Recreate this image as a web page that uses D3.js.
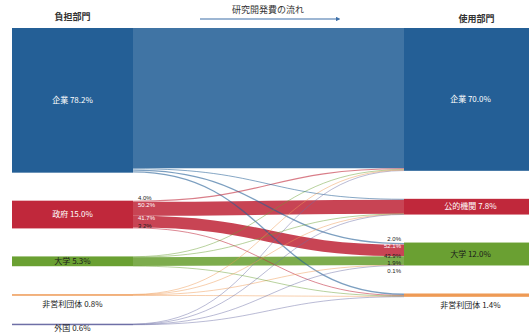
<!DOCTYPE html>
<html>
<head>
<meta charset="utf-8">
<script src="https://cdn.jsdelivr.net/npm/d3@7"></script>
<style>
  body { margin: 0; background: #fff; }
  text { font-family: "Noto Sans CJK JP", "Noto Sans", sans-serif; }
  text.pct { font-family: "Liberation Sans", Arial, sans-serif; }
</style>
</head>
<body>
<div id="vis-container"></div>
<script>
const width = 529,
      height = 334;

// ******* Data *******
var sources = ["企業", "政府", "大学", "非営利団体", "外国"];
var sourceShares = ["78.2%", "15.0%", "5.3%", "0.8%", "0.6%"];
var targets = ["企業", "公的機関", "大学", "非営利団体"];
var targetShares = ["70.0%", "7.8%", "12.0%", "1.4%"];

// flows in % of total R&D, rows = sources, columns = targets
var flowKigyo  = [75.8, 0.5, 1.1, 0.8];
var flowSeifu  = [0.6, 7.6, 6.3, 0.5];
var flowDaigaku = [0.3, 0.2, 4.7, 0.1];
var flowHieiri = [0.2, 0.1, 0.2, 0.3];
var flowGaikoku = [0.3, 0.1, 0.1, 0.1];
var flows = [flowKigyo, flowSeifu, flowDaigaku, flowHieiri, flowGaikoku];

// share labels drawn on the flows
var seifuOutLabels = ["4.0%", "50.2%", "41.7%", "3.2%"];     // 政府 -> each target
var daigakuInLabels = ["2.0%", "52.1%", "43.9%", "1.9%", "0.1%"]; // each source -> 大学

var colors = {
    "企業": "#245f96",
    "政府": "#c0283b",
    "大学": "#6aa032",
    "非営利団体": "#ee9a55",
    "外国": "#6e6fa6"
};
var ink = { "企業": "#fff", "政府": "#fff", "公的機関": "#fff", "大学": "#1a1a1a" };
var targetColor = { "企業": "#245f96", "公的機関": "#c0283b", "大学": "#6aa032", "非営利団体": "#ee9a55" };

// ******* Layout *******
const topY = 28, gap = 28;
const leftX0 = 12, leftX1 = 133, rightX0 = 404, rightX1 = 529;
var k = d3.scaleLinear().domain([0, 100]).range([0, 185]);

var srcTotals = flows.map(r => d3.sum(r));
var tgtTotals = targets.map((t, j) => d3.sum(flows, r => r[j]));

function stack(names, totals) {
    var y = topY;
    return names.map(function(n, i) {
        var h = k(totals[i]);
        var node = { name: n, y0: y, y1: y + h, h: h };
        y += h + gap;
        return node;
    });
}
var leftNodes = stack(sources, srcTotals);
var rightNodes = stack(targets, tgtTotals);

var links = [];
var tOff = rightNodes.map(n => n.y0);
leftNodes.forEach(function(s, i) {
    var sOff = s.y0;
    flows[i].forEach(function(v, j) {
        var w = k(v);
        links.push({ i: i, j: j, v: v, w: w, sy: sOff + w / 2, ty: tOff[j] + w / 2 });
        sOff += w;
        tOff[j] += w;
    });
});
// thick bands underneath, thin lines on top
links.sort((a, b) => b.w - a.w);

var svg = d3.select("#vis-container").append("svg")
    .attr("width", width)
    .attr("height", height);

var link = d3.linkHorizontal();

svg.append("g").selectAll("path")
    .data(links)
    .enter()
    .append("path")
    .attr("d", d => link({ source: [leftX1, d.sy], target: [rightX0, d.ty] }))
    .attr("fill", "none")
    .attr("stroke", d => colors[sources[d.i]])
    .attr("stroke-opacity", d => d.w > 3 ? 0.87 : 0.6)
    .attr("stroke-width", d => d.w > 3 ? d.w : Math.min(Math.max(d.w, 0.8), 1.3));

// nodes
svg.append("g").selectAll("rect")
    .data(leftNodes)
    .enter()
    .append("rect")
    .attr("x", leftX0)
    .attr("y", d => d.y0)
    .attr("width", leftX1 - leftX0)
    .attr("height", d => Math.max(d.h, 1.5))
    .attr("fill", d => colors[d.name]);

svg.append("g").selectAll("rect")
    .data(rightNodes)
    .enter()
    .append("rect")
    .attr("x", rightX0)
    .attr("y", d => d.y0)
    .attr("width", rightX1 - rightX0)
    .attr("height", d => Math.max(d.h, 1.5))
    .attr("fill", d => targetColor[d.name]);

// node labels: inside when node is tall, below the line otherwise
function nodeLabels(nodes, shares, cx) {
    svg.append("g").selectAll("text")
        .data(nodes)
        .enter()
        .append("text")
        .attr("x", cx)
        .attr("y", d => d.h > 6 ? (d.y0 + d.y1) / 2 : Math.min(d.y1 + 8, height - 5.5))
        .attr("dy", "0.35em")
        .attr("text-anchor", "middle")
        .attr("font-size", 8)
        .attr("fill", d => d.h > 6 ? ink[d.name] : "#1a1a1a")
        .text((d, i) => d.name + " " + shares[i]);
}
nodeLabels(leftNodes, sourceShares, (leftX0 + leftX1) / 2);
nodeLabels(rightNodes, targetShares, (rightX0 + rightX1) / 2 + 4);

// push stacked labels apart so they do not sit on each other
function dodge(ys, step) {
    var out = [];
    ys.forEach(function(y, i) { out.push(i == 0 ? y : Math.max(y, out[i - 1] + step)); });
    return out;
}

// flow share labels
var seifuLinks = links.filter(d => d.i == 1).sort((a, b) => a.j - b.j);
var seifuY = dodge(seifuLinks.map(d => d.sy - 3.5), 7.3);
svg.append("g").selectAll("text")
    .data(seifuLinks)
    .enter()
    .append("text")
    .attr("class", "pct")
    .attr("x", leftX1 + 5)
    .attr("y", (d, i) => seifuY[i])
    .attr("dy", "0.35em")
    .attr("font-size", 6)
    .attr("fill", d => d.w > 3 ? "#fff" : "#1a1a1a")
    .text(d => seifuOutLabels[d.j]);

var daigakuLinks = links.filter(d => d.j == 2).sort((a, b) => a.i - b.i);
var daigakuY = dodge(daigakuLinks.map(d => d.ty - 4.5), 7.3);
svg.append("g").selectAll("text")
    .data(daigakuLinks)
    .enter()
    .append("text")
    .attr("class", "pct")
    .attr("x", rightX0 - 3)
    .attr("y", (d, i) => daigakuY[i])
    .attr("dy", "0.35em")
    .attr("text-anchor", "end")
    .attr("font-size", 6)
    .attr("fill", d => d.i == 1 ? "#fff" : "#1a1a1a")
    .text(d => daigakuInLabels[d.i]);

// headers
svg.append("text")
    .attr("x", (leftX0 + leftX1) / 2)
    .attr("y", 20)
    .attr("text-anchor", "middle")
    .attr("font-size", 9)
    .attr("font-weight", "bold")
    .attr("fill", "#333")
    .text("負担部門");
svg.append("text")
    .attr("x", (rightX0 + rightX1) / 2 + 10)
    .attr("y", 22)
    .attr("text-anchor", "middle")
    .attr("font-size", 9)
    .attr("font-weight", "bold")
    .attr("fill", "#333")
    .text("使用部門");
svg.append("text")
    .attr("x", 268)
    .attr("y", 13)
    .attr("text-anchor", "middle")
    .attr("font-size", 9)
    .attr("fill", "#333")
    .text("研究開発費の流れ");

svg.append("defs").append("marker")
    .attr("id", "arrow")
    .attr("viewBox", "0 0 10 10")
    .attr("refX", 5).attr("refY", 5)
    .attr("markerWidth", 4).attr("markerHeight", 4)
    .attr("orient", "auto")
    .append("path")
    .attr("d", "M0,0L10,5L0,10z")
    .attr("fill", "#3d6fa8");
svg.append("line")
    .attr("x1", 200).attr("x2", 338)
    .attr("y1", 19).attr("y2", 19)
    .attr("stroke", "#3d6fa8")
    .attr("stroke-width", 1.2)
    .attr("marker-end", "url(#arrow)");
</script>
</body>
</html>
